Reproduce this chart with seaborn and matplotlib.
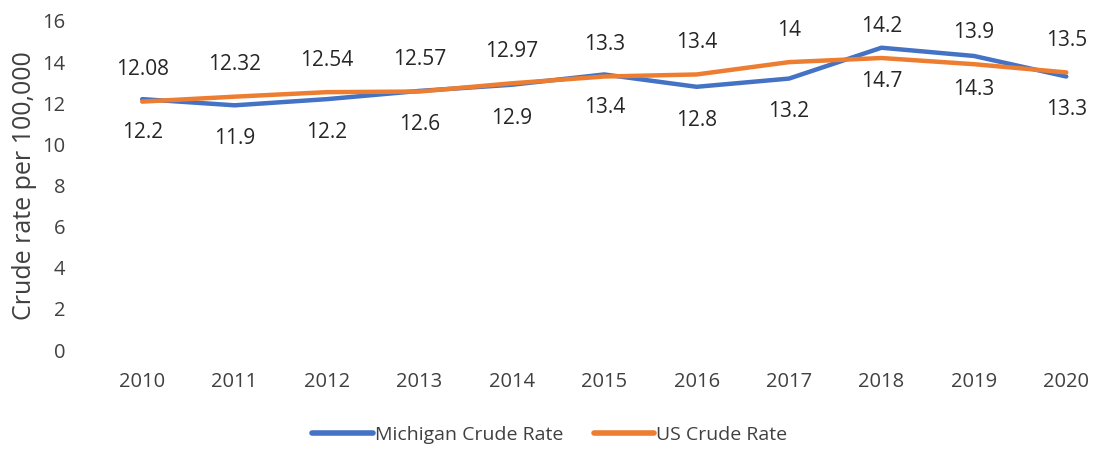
import matplotlib
matplotlib.use("Agg")
import matplotlib.pyplot as plt
import seaborn as sns
import pandas as pd
from matplotlib.lines import Line2D

# datos
years = [2010, 2011, 2012, 2013, 2014, 2015, 2016, 2017, 2018, 2019, 2020]
michigan = [12.2, 11.9, 12.2, 12.6, 12.9, 13.4, 12.8, 13.2, 14.7, 14.3, 13.3]
us = [12.08, 12.32, 12.54, 12.57, 12.97, 13.3, 13.4, 14, 14.2, 13.9, 13.5]
michigan_labels = ["12.2", "11.9", "12.2", "12.6", "12.9", "13.4", "12.8", "13.2", "14.7", "14.3", "13.3"]
us_labels = ["12.08", "12.32", "12.54", "12.57", "12.97", "13.3", "13.4", "14", "14.2", "13.9", "13.5"]

sns.set_theme(style="white")
plt.rcParams['font.family'] = ['Open Sans', 'DejaVu Sans']

idx = list(range(len(years)))
df = pd.DataFrame({
    "pos": idx + idx,
    "rate": michigan + us,
    "serie": ["Michigan Crude Rate"] * len(years) + ["US Crude Rate"] * len(years),
})

fig = plt.figure(figsize=(10.94, 4.49), dpi=100)
ax = fig.add_axes([96 / 1094, 99 / 449, 998 / 1094, 329 / 449])

sns.lineplot(data=df, x="pos", y="rate", hue="serie",
             palette={"Michigan Crude Rate": "#4472C4", "US Crude Rate": "#ED7D31"},
             linewidth=3.2, ax=ax, legend=False)

# etiquetas de datos
for i in idx:
    ax.annotate(us_labels[i], (i, us[i]), xytext=(0, 23), textcoords="offset points",
                ha="center", va="center", fontsize=15, color="#262626")
    ax.annotate(michigan_labels[i], (i, michigan[i]), xytext=(0, -24), textcoords="offset points",
                ha="center", va="center", fontsize=15, color="#262626")

ax.set_xlim(-0.5, 10.3)
ax.set_ylim(0, 16)
ax.set_yticks(range(0, 17, 2))
ax.set_xticks(idx)
ax.set_xticklabels([str(y) for y in years])
ax.tick_params(axis="both", labelsize=14.5, colors="#404040", length=0)
ax.tick_params(axis="y", pad=22)
ax.tick_params(axis="x", pad=16)
ax.set_xlabel("")
ax.set_ylabel("Crude rate per 100,000", fontsize=18, color="#404040", labelpad=4)
sns.despine(ax=ax, left=True, bottom=True)

# leyenda
handles = [Line2D([0], [0], color="#4472C4", lw=4),
           Line2D([0], [0], color="#ED7D31", lw=4)]
fig.legend(handles, ["Michigan Crude Rate", "US Crude Rate"], loc="center",
           bbox_to_anchor=(550 / 1094, 1 - 435 / 449), ncol=2, frameon=False,
           fontsize=14, handlelength=3.1, handletextpad=0.1, columnspacing=1.6,
           labelcolor="#404040")

fig.savefig("out.png", dpi=100)
